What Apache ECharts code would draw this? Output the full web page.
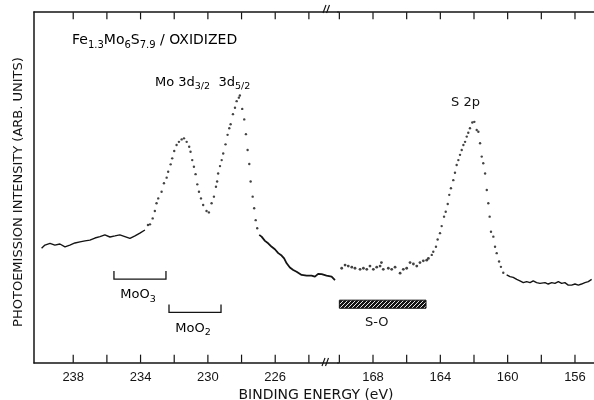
<!DOCTYPE html>
<html lang="en">
<head>
<meta charset="UTF-8">
<title>XPS Fe1.3Mo6S7.9</title>
<script src="https://cdn.jsdelivr.net/npm/echarts@6/dist/echarts.min.js"></script>
</head>
<style>
html,body{margin:0;padding:0;background:#fff}
#chartBox{width:594px;height:400px}
</style>
<body>
<div id="chartBox"></div>
<script>
// binding energy (eV) / intensity (arb. units, 0..100 over the frame)
const leftBaseE = [239.88, 239.68, 239.38, 239.09, 238.79, 238.49, 238.20, 237.90, 237.60, 237.30, 237.01, 236.71, 236.41, 236.12, 235.82, 235.52, 235.23, 234.93, 234.63, 234.33, 234.04, 233.74];
const leftBaseI = [32.7, 33.6, 34.1, 33.6, 33.9, 33.1, 33.6, 34.2, 34.5, 34.8, 35.0, 35.6, 36.0, 36.5, 35.9, 36.2, 36.5, 36.0, 35.5, 36.2, 37.0, 37.9];

const leftPeakE = [233.56, 233.44, 233.28, 233.15, 233.05, 232.95, 232.75, 232.61, 232.45, 232.36, 232.21, 232.12, 232.00, 231.86, 231.72, 231.56, 231.42, 231.26, 231.11, 231.03, 230.93, 230.83, 230.73, 230.63, 230.53, 230.41, 230.28, 230.08, 229.94, 229.78, 229.64, 229.52, 229.45, 229.39, 229.28, 229.18, 229.09, 228.95, 228.83, 228.73, 228.65, 228.51, 228.39, 228.29, 228.16, 228.10, 227.96, 227.84, 227.74, 227.64, 227.54, 227.46, 227.34, 227.25, 227.16, 227.07];
const leftPeakI = [39.3, 39.5, 41.2, 43.3, 45.5, 46.9, 48.8, 51.2, 52.8, 54.5, 56.6, 58.3, 60.4, 62.1, 63.0, 63.7, 64.0, 63.0, 61.6, 60.2, 57.8, 55.9, 53.8, 50.9, 48.8, 46.9, 45.0, 43.3, 42.9, 45.5, 47.4, 50.2, 51.7, 54.0, 56.1, 57.8, 59.7, 62.3, 65.0, 66.9, 68.0, 70.9, 72.7, 74.6, 75.6, 76.2, 72.4, 69.4, 65.2, 60.7, 56.7, 51.7, 47.4, 44.1, 40.7, 38.4];

const leftTailE = [226.95, 226.81, 226.61, 226.42, 226.21, 226.02, 225.82, 225.62, 225.47, 225.32, 225.13, 224.93, 224.73, 224.43, 224.13, 223.84, 223.64, 223.45, 223.24, 222.95, 222.65, 222.45];
const leftTailI = [36.5, 36.0, 34.8, 34.1, 33.1, 32.4, 31.3, 30.6, 29.8, 28.4, 27.2, 26.5, 26.0, 25.1, 24.9, 24.9, 24.6, 25.4, 25.3, 24.9, 24.6, 23.6];

const rightBaseE = [169.86, 169.66, 169.47, 169.26, 169.07, 168.77, 168.57, 168.37, 168.18, 167.98, 167.78, 167.58, 167.50, 167.39, 167.09, 166.89, 166.69, 166.39, 166.20, 166.00, 165.80, 165.60, 165.40, 165.21, 165.01, 164.81, 164.71];
const rightBaseI = [27.0, 27.9, 27.6, 27.3, 27.0, 26.7, 27.0, 26.7, 27.6, 26.7, 27.3, 27.6, 28.6, 26.7, 27.0, 26.7, 27.3, 25.6, 26.7, 27.0, 28.6, 28.2, 27.6, 28.6, 29.1, 29.3, 29.8];

const rightPeakE = [164.51, 164.42, 164.26, 164.16, 164.02, 163.92, 163.78, 163.68, 163.56, 163.47, 163.37, 163.23, 163.13, 163.03, 162.93, 162.83, 162.73, 162.63, 162.53, 162.43, 162.34, 162.24, 162.10, 161.98, 161.84, 161.74, 161.64, 161.54, 161.45, 161.34, 161.24, 161.15, 161.07, 160.99, 160.85, 160.75, 160.65, 160.51, 160.40, 160.26];
const rightPeakI = [30.8, 31.7, 33.1, 35.2, 37.0, 39.0, 41.7, 43.1, 45.3, 47.9, 49.8, 52.1, 54.2, 56.4, 57.8, 59.3, 60.7, 62.1, 63.0, 64.5, 65.6, 66.9, 68.5, 68.7, 66.4, 65.9, 62.6, 58.8, 56.9, 54.0, 49.3, 45.5, 41.7, 37.4, 36.0, 33.1, 31.3, 28.9, 27.4, 25.7];

const rightTailE = [160.06, 159.86, 159.67, 159.46, 159.27, 159.07, 158.87, 158.67, 158.48, 158.28, 158.08, 157.78, 157.59, 157.38, 157.19, 156.99, 156.79, 156.60, 156.40, 156.20, 156.00, 155.80, 155.61, 155.41, 155.21, 155.01];
const rightTailI = [25.1, 24.6, 24.4, 23.8, 23.4, 22.9, 23.2, 22.9, 23.4, 22.9, 22.7, 22.9, 22.5, 22.9, 22.7, 23.2, 22.7, 22.9, 22.2, 22.2, 22.5, 22.2, 22.5, 22.9, 23.2, 23.8];

// tick / label values of the broken energy axis
const leftTicks = [238, 236, 234, 232, 230, 228, 226, 224];
const leftLabels = [238, 234, 230, 226];
const rightTicks = [170, 168, 166, 164, 162, 160, 158, 156];
const rightLabels = [168, 164, 160, 156];

// oxide reference ranges
const oxideNames = ['{n|MoO}{s|3}', '{n|MoO}{s|2}'];
const oxideFrom = [235.58, 232.31];
const oxideTo = [232.49, 229.22];
const oxideLevel = [23.9, 14.4];
const soRange = [170.0, 164.85];
const soLevel = [17.9, 15.6];

const FONT = '"DejaVu Sans", sans-serif';
const INK = '#141414';

function zip(a, b) {
    return a.map((v, i) => [v, b[i]]);
}

function makeHatch() {
    let c = document.createElement('canvas');
    c.width = 4; c.height = 4;
    let ctx = c.getContext('2d');
    ctx.fillStyle = INK;
    ctx.fillRect(0, 0, 4, 4);
    ctx.strokeStyle = '#fff';
    ctx.lineWidth = 0.9;
    ctx.beginPath();
    ctx.moveTo(0, 4); ctx.lineTo(4, 0);
    ctx.stroke();
    return c;
}

const subRich = {
    n: {fontSize: 13, fontFamily: FONT, color: INK, lineHeight: 18},
    s: {fontSize: 9.5, fontFamily: FONT, color: INK, lineHeight: 9, verticalAlign: 'bottom'}
};

function energyAxis(gridIndex, pos, min, max, labels) {
    return {
        type: 'value', gridIndex: gridIndex, position: pos, inverse: true, min: min, max: max,
        axisLine: {show: true, onZero: false, lineStyle: {color: INK, width: 1.5}},
        axisTick: {show: false},
        axisLabel: labels ? {show: true, customValues: labels, margin: 8, color: INK, fontSize: 13, fontFamily: '"Liberation Sans", sans-serif'} : {show: false},
        splitLine: {show: false}
    };
}

// inward ticks: each tick value is projected through the axis scale,
// drawn from the frame edge (y = 0 or 100) a few pixels inward
function renderTicks(params, api) {
    let b = api.coord([api.value(0), api.value(1)]);
    let t = api.coord([api.value(0), api.value(2)]);
    return {
        type: 'group',
        children: [
            {type: 'rect', shape: {x: b[0] - 0.6, y: b[1] - 8, width: 1.2, height: 8}, style: {fill: INK}},
            {type: 'rect', shape: {x: t[0] - 0.6, y: t[1], width: 1.2, height: 7}, style: {fill: INK}}
        ]
    };
}

function renderBracket(params, api) {
    let p1 = api.coord([api.value(0), api.value(2)]);
    let p2 = api.coord([api.value(1), api.value(2)]);
    return {
        type: 'group',
        children: [
            {type: 'polyline', shape: {points: [[p1[0], p1[1] - 8], p1, p2, [p2[0], p2[1] - 8]]},
             style: {stroke: INK, lineWidth: 1.3, fill: null}},
            {type: 'text', x: (p1[0] + p2[0]) / 2 - 2, y: p1[1] + 16,
             style: {text: oxideNames[params.dataIndex], rich: subRich, align: 'center', verticalAlign: 'middle'}}
        ]
    };
}

function renderHatch(params, api) {
    let a = api.coord([api.value(0), api.value(2)]);
    let b = api.coord([api.value(1), api.value(3)]);
    return {
        type: 'group',
        children: [
            {type: 'rect', shape: {x: a[0], y: a[1], width: b[0] - a[0], height: b[1] - a[1]},
             style: {fill: {image: makeHatch(), repeat: 'repeat'}, stroke: INK, lineWidth: 1}},
            {type: 'text', x: (a[0] + b[0]) / 2 - 6, y: b[1] + 14,
             style: {text: 'S-O', fontSize: 13, fontFamily: FONT, fill: INK, align: 'center', verticalAlign: 'middle'}}
        ]
    };
}

let chartObj = echarts.init(document.getElementById('chartBox'));
let option = {
    animation: false,
    grid: [
        {left: 34, top: 12, width: 304, bottom: 37},
        {left: 338, top: 12, right: 0, bottom: 37}
    ],
    xAxis: [
        energyAxis(0, 'bottom', 222.27, 240.33, leftLabels),
        energyAxis(0, 'top', 222.27, 240.33, null),
        energyAxis(1, 'bottom', 154.87, 170.08, rightLabels),
        energyAxis(1, 'top', 154.87, 170.08, null)
    ],
    yAxis: [
        {type: 'value', gridIndex: 0, min: 0, max: 100,
         axisLine: {show: true, onZero: false, lineStyle: {color: INK, width: 1.5}},
         axisTick: {show: false}, axisLabel: {show: false}, splitLine: {show: false}},
        {type: 'value', gridIndex: 1, min: 0, max: 100, show: false}
    ],
    series: [
        {type: 'line', xAxisIndex: 0, yAxisIndex: 0, data: zip(leftBaseE, leftBaseI), showSymbol: false,
         lineStyle: {color: INK, width: 1.4}, silent: true},
        {type: 'scatter', xAxisIndex: 0, yAxisIndex: 0, data: zip(leftPeakE, leftPeakI), symbolSize: 2.4,
         itemStyle: {color: INK}, silent: true},
        {type: 'line', xAxisIndex: 0, yAxisIndex: 0, data: zip(leftTailE, leftTailI), showSymbol: false,
         lineStyle: {color: INK, width: 1.8}, silent: true},
        {type: 'custom', xAxisIndex: 0, yAxisIndex: 0, renderItem: renderBracket, silent: true,
         data: oxideFrom.map((f, i) => [f, oxideTo[i], oxideLevel[i]])},
        {type: 'scatter', xAxisIndex: 2, yAxisIndex: 1, data: zip(rightBaseE, rightBaseI), symbolSize: 2.8,
         itemStyle: {color: INK}, silent: true},
        {type: 'scatter', xAxisIndex: 2, yAxisIndex: 1, data: zip(rightPeakE, rightPeakI), symbolSize: 2.4,
         itemStyle: {color: INK}, silent: true},
        {type: 'line', xAxisIndex: 2, yAxisIndex: 1, data: zip(rightTailE, rightTailI), showSymbol: false,
         lineStyle: {color: INK, width: 1.4}, silent: true},
        {type: 'custom', xAxisIndex: 2, yAxisIndex: 1, renderItem: renderHatch, silent: true,
         data: [[soRange[0], soRange[1], soLevel[0], soLevel[1]]]},
        {type: 'custom', xAxisIndex: 0, yAxisIndex: 0, renderItem: renderTicks, silent: true, clip: false,
         data: leftTicks.map(v => [v, 0.1, 99.9])},
        {type: 'custom', xAxisIndex: 2, yAxisIndex: 1, renderItem: renderTicks, silent: true, clip: false,
         data: rightTicks.map(v => [v, 0.1, 99.9])}
    ],
    graphic: [
        {type: 'text', x: 72, y: 40, style: {text: '{t|Fe}{u|1.3}{t|Mo}{u|6}{t|S}{u|7.9}{t| / OXIDIZED}',
            rich: {t: {fontSize: 14, fontFamily: FONT, color: INK, lineHeight: 20},
                   u: {fontSize: 10, fontFamily: FONT, color: INK, lineHeight: 10, verticalAlign: 'bottom'}},
            verticalAlign: 'middle'}},
        {type: 'text', x: 155, y: 83, style: {text: '{n|Mo 3d}{s|3/2}{n|  3d}{s|5/2}', rich: subRich, verticalAlign: 'middle'}},
        {type: 'text', x: 451, y: 103, style: {text: 'S 2p', fontSize: 13, fontFamily: FONT, fill: INK, verticalAlign: 'middle'}},
        {type: 'text', x: 316, y: 395, style: {text: 'BINDING ENERGY (eV)', fontSize: 14, fontFamily: FONT, fill: INK, align: 'center', verticalAlign: 'middle'}},
        {type: 'text', x: 19, y: 192, rotation: Math.PI / 2,
         style: {text: 'PHOTOEMISSION INTENSITY (ARB. UNITS)', fontSize: 13, fontFamily: FONT, fill: INK, align: 'center', verticalAlign: 'middle'}},
        // axis break marks
        {type: 'line', shape: {x1: 322, y1: 366, x2: 325, y2: 358}, style: {stroke: INK, lineWidth: 1.2}},
        {type: 'line', shape: {x1: 325.5, y1: 366, x2: 328.5, y2: 358}, style: {stroke: INK, lineWidth: 1.2}},
        {type: 'line', shape: {x1: 323, y1: 13, x2: 326, y2: 5}, style: {stroke: INK, lineWidth: 1.2}},
        {type: 'line', shape: {x1: 326.5, y1: 13, x2: 329.5, y2: 5}, style: {stroke: INK, lineWidth: 1.2}}
    ]
};
chartObj.setOption(option);
</script>
</body>
</html>
